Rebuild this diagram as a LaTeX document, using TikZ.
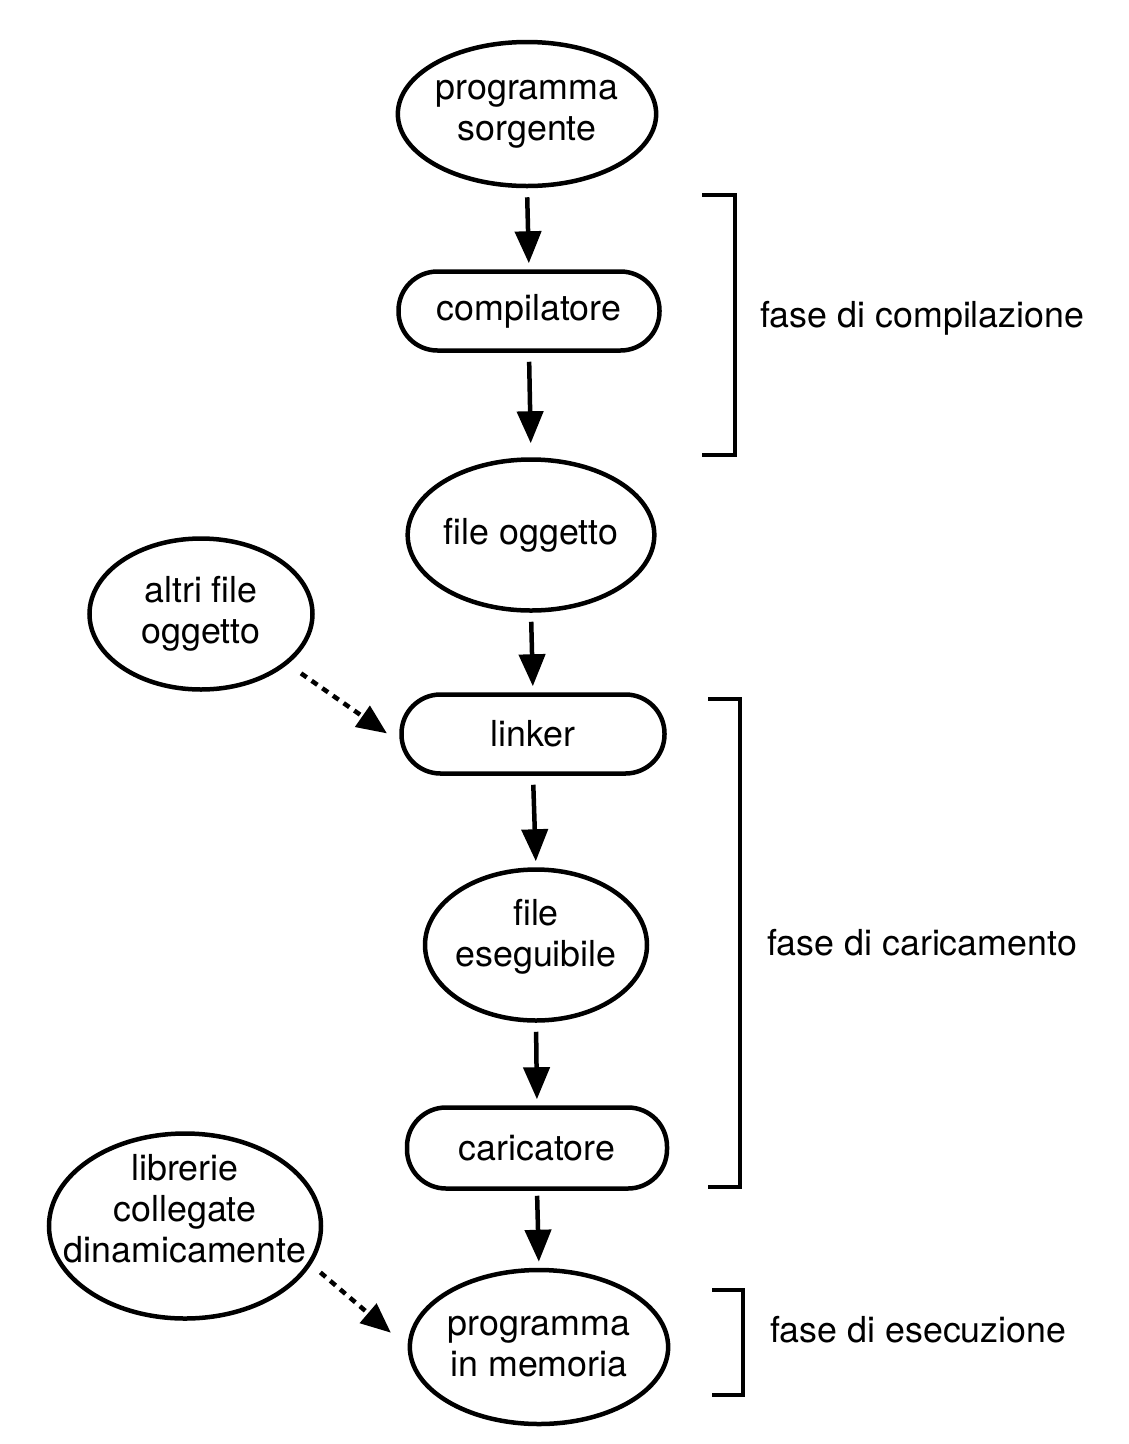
\documentclass[tikz,border=0pt]{standalone}
\usepackage{fontspec}
\setmainfont{TeX Gyre Heros}
\usetikzlibrary{shapes.geometric,arrows.meta}
\begin{document}
\begin{tikzpicture}[x=1pt,y=-1pt,
  every node/.style={font=\fontsize{35.8}{41}\selectfont, align=center, inner sep=0pt, line width=4.5pt},
  ell/.style={draw, ellipse},
  pill/.style={draw, rectangle, rounded corners=39pt, minimum height=79pt},
  flow/.style={line width=4.5pt, -{Triangle[length=32pt,width=26pt]}, shorten <=9pt, shorten >=6pt},
  dotarrow/.style={line width=4.5pt, dash pattern=on 7pt off 6pt, -{Triangle[length=30pt,width=25pt]}},
  bracket/.style={line width=4.5pt, line join=miter},
  phase/.style={anchor=west}
]
\useasboundingbox (0,0) rectangle (1129,1444);
\fill[white] (0,0) rectangle (1129,1444);

% main column
\node[ell, minimum width=223pt, minimum height=144pt] (ps) at (527,114) {programma\\sorgente};
\node[pill, minimum width=261pt] (comp) at (529,311) {compilatore};
\node[ell, minimum width=225pt, minimum height=151pt] (fo) at (531,535) {file oggetto};
\node[pill, minimum width=263pt] (linker) at (533,734) {linker};
\node[ell, minimum width=222pt, minimum height=151pt] (fe) at (536,945) {};
\node at ([yshift=8pt]fe.center) {file\\eseguibile};
\node[pill, minimum width=260pt, minimum height=81pt] (car) at (537,1148) {caricatore};
\node[ell, minimum width=225pt, minimum height=154pt] (pm) at (539,1347) {programma\\in memoria};

% side inputs
\node[ell, minimum width=223pt, minimum height=151pt] (altri) at (201,614) {altri file\\oggetto};
\node[ell, minimum width=272pt, minimum height=185pt] (lib) at (185,1226) {};
\node at ([yshift=17pt]lib.center) {librerie\\collegate\\dinamicamente};

% flow arrows
\draw[flow] (ps.south) -- (comp.north);
\draw[flow, shorten >=14pt] (comp.south) -- (fo.north);
\draw[flow] (fo.south) -- (linker.north);
\draw[flow] (linker.south) -- (fe.north);
\draw[flow] (fe.south) -- (car.north);
\draw[flow, shorten <=5pt] (car.south) -- (pm.north);

% dotted arrows
\draw[dotarrow, shorten <=16pt, shorten >=15pt] (altri.-30) -- ([yshift=-8pt]linker.west);
\draw[dotarrow, shorten <=12pt, shorten >=22pt] (lib.-17) -- (pm.west);

% phase brackets
\draw[bracket] (702,195) -- (735,195) -- (735,455) -- (702,455);
\node[phase] (p1) at (758,318) {fase di compilazione};
\draw[bracket] (708,699) -- (740,699) -- (740,1187) -- (708,1187);
\node[phase] (p2) at (765,943) {fase di caricamento};
\draw[bracket] (712,1290) -- (743,1290) -- (743,1395) -- (712,1395);
\node[phase] (p3) at (768,1330) {fase di esecuzione};
\end{tikzpicture}
\end{document}
